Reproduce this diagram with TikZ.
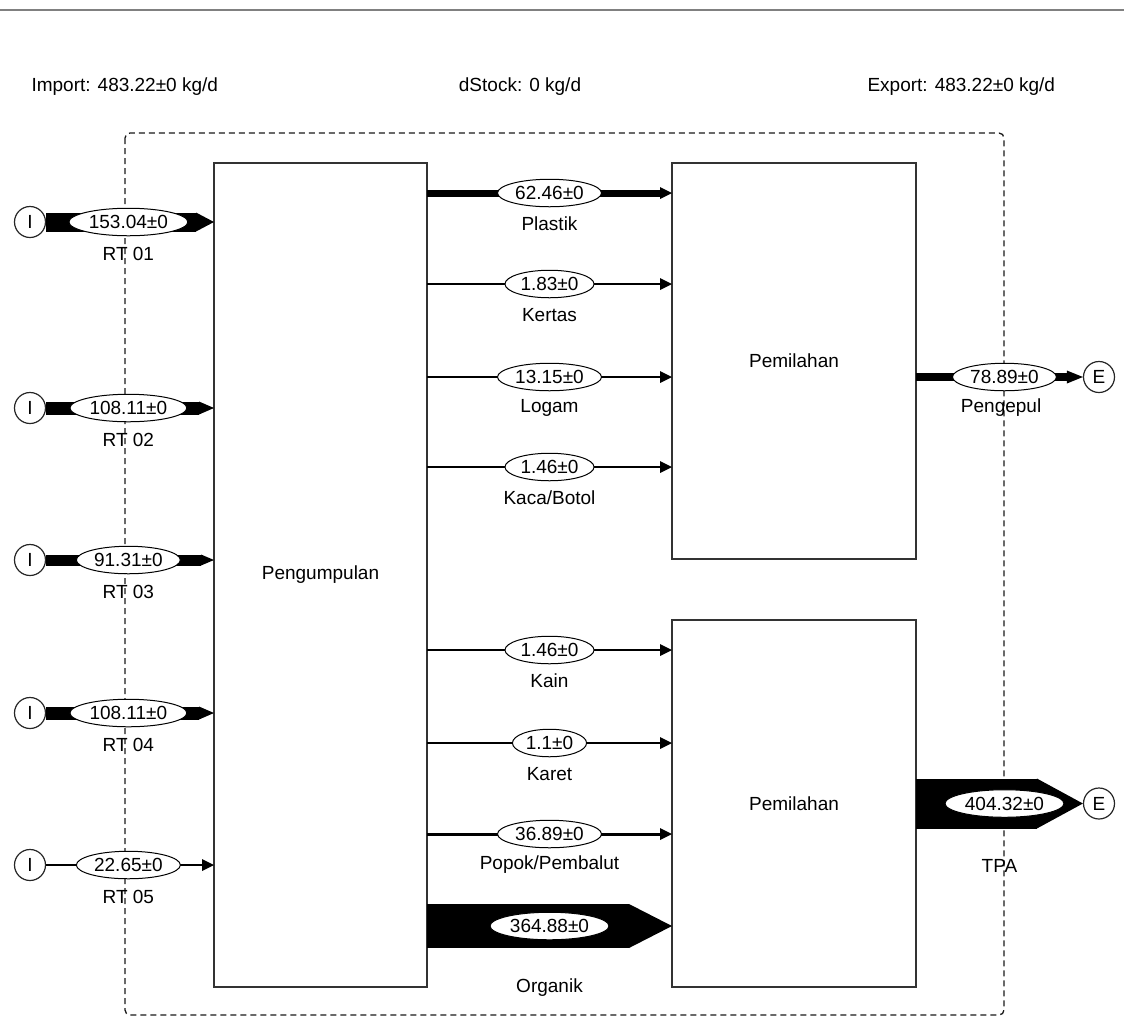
\documentclass[tikz,border=0pt]{standalone}
\usepackage{fontspec}
\setmainfont{Liberation Sans}
\usetikzlibrary{positioning, arrows.meta, shapes.geometric}

\tikzset{
  every node/.style={font=\fontsize{19}{22}\selectfont},
  proses/.style={draw=black!80, line width=1.5pt, inner sep=0pt, outer sep=0pt},
  ujung/.style={circle, draw=black!85, line width=1.2pt, minimum size=31pt, inner sep=0pt},
  nilai/.style={ellipse, draw=black, fill=white, line width=1pt, inner xsep=2.5pt, inner ysep=3pt},
  pipa/.style={line width=#1, -{Triangle[length=12pt,width=12pt,line width=0pt]}},
  pita/.style 2 args={line width=#1, -{Triangle[length=#2,width=#1,line width=0pt]}},
  batas/.style={draw=black!90, line width=1.3pt, dash pattern=on 6pt off 4pt, rounded corners=5pt}
}

\begin{document}
\begin{tikzpicture}[x=1pt, y=-1pt]
    \useasboundingbox (0,0) rectangle (1124,1018);
    %garis atas dan neraca
    \draw[gray, line width=1.5pt] (0,10) -- (1124,10);
    \node[anchor=west] (impor) at (28,87) {Import: 483.22±0 kg/d};
    \node (stok) at (520,87) {dStock: 0 kg/d};
    \node[anchor=west] (ekspor) at (864,87) {Export: 483.22±0 kg/d};
    %batas sistem
    \draw[batas] (125,133) rectangle (1004,1015);
    %proses
    \node[proses, minimum width=213pt, minimum height=824pt] (kumpul) at (320.5,575) {Pengumpulan};
    \node[proses, minimum width=244pt, minimum height=396pt] (pilah1) at (794,361) {Pemilahan};
    \node[proses, minimum width=244pt, minimum height=367pt] (pilah2) at (794,803.5) {Pemilahan};
    %impor
    \node[ujung] (i1) at (30,222) {I};
    \node[ujung] (i2) at (30,408) {I};
    \node[ujung] (i3) at (30,560) {I};
    \node[ujung] (i4) at (30,713) {I};
    \node[ujung] (i5) at (30,865) {I};
    \draw[pita={19pt}{18pt}] (i1) -- (kumpul.west |- i1) node[nilai, pos=.49] (n1) {153.04±0} node[pos=.49, yshift=-32pt] (rt1) {RT 01};
    \draw[pita={13pt}{15pt}] (i2) -- (kumpul.west |- i2) node[nilai, pos=.49] (n2) {108.11±0} node[pos=.49, yshift=-32pt] (rt2) {RT 02};
    \draw[pita={11pt}{13pt}] (i3) -- (kumpul.west |- i3) node[nilai, pos=.49] (n3) {91.31±0} node[pos=.49, yshift=-32pt] (rt3) {RT 03};
    \draw[pita={13pt}{15pt}] (i4) -- (kumpul.west |- i4) node[nilai, pos=.49] (n4) {108.11±0} node[pos=.49, yshift=-32pt] (rt4) {RT 04};
    \draw[pipa=1.5pt] (i5) -- (kumpul.west |- i5) node[nilai, pos=.49] (n5) {22.65±0} node[pos=.49, yshift=-32pt] (rt5) {RT 05};
    %aliran ke pemilahan
    \draw[pipa=7pt] (kumpul.east |- 0,193) -- (pilah1.west |- 0,193) node[nilai, pos=.5] (n6) {62.46±0} node[pos=.5, yshift=-31pt] (plastik) {Plastik};
    \draw[pipa=1.3pt] (kumpul.east |- 0,284) -- (pilah1.west |- 0,284) node[nilai, pos=.5] (n7) {1.83±0} node[pos=.5, yshift=-31pt] (kertas) {Kertas};
    \draw[pipa=1.5pt] (kumpul.east |- 0,377) -- (pilah1.west |- 0,377) node[nilai, pos=.5] (n8) {13.15±0} node[pos=.5, yshift=-31pt] (logam) {Logam};
    \draw[pipa=1.3pt] (kumpul.east |- 0,467) -- (pilah1.west |- 0,467) node[nilai, pos=.5] (n9) {1.46±0} node[pos=.5, yshift=-31pt] (kaca) {Kaca/Botol};
    \draw[pipa=1.3pt] (kumpul.east |- 0,650) -- (pilah2.west |- 0,650) node[nilai, pos=.5] (n10) {1.46±0} node[pos=.5, yshift=-31pt] (kain) {Kain};
    \draw[pipa=1.3pt] (kumpul.east |- 0,743) -- (pilah2.west |- 0,743) node[nilai, pos=.5] (n11) {1.1±0} node[pos=.5, yshift=-31pt] (karet) {Karet};
    \draw[pipa=3pt] (kumpul.east |- 0,834) -- (pilah2.west |- 0,834) node[nilai, pos=.5] (n12) {36.89±0} node[pos=.5, yshift=-31pt] (popok) {Popok/Pembalut};
    \draw[pita={44pt}{43pt}] (kumpul.east |- 0,926) -- (pilah2.west |- 0,926) node[nilai, pos=.5] (n13) {364.88±0} node[pos=.5, yshift=-62pt] (organik) {Organik};
    %ekspor
    \node[ujung] (e1) at (1099,377) {E};
    \node[ujung] (e2) at (1099,803.5) {E};
    \draw[line width=8.5pt, -{Triangle[length=16pt,width=13pt,line width=0pt]}] (pilah1.east |- e1) -- (e1) node[nilai, pos=.53] (n14) {78.89±0} node[pos=.51, yshift=-31pt] (pengepul) {Pengepul};
    \draw[pita={50pt}{46pt}] (pilah2.east |- e2) -- (e2) node[nilai, pos=.53] (n15) {404.32±0} node[pos=.5, yshift=-62pt] (tpa) {TPA};
\end{tikzpicture}
\end{document}
